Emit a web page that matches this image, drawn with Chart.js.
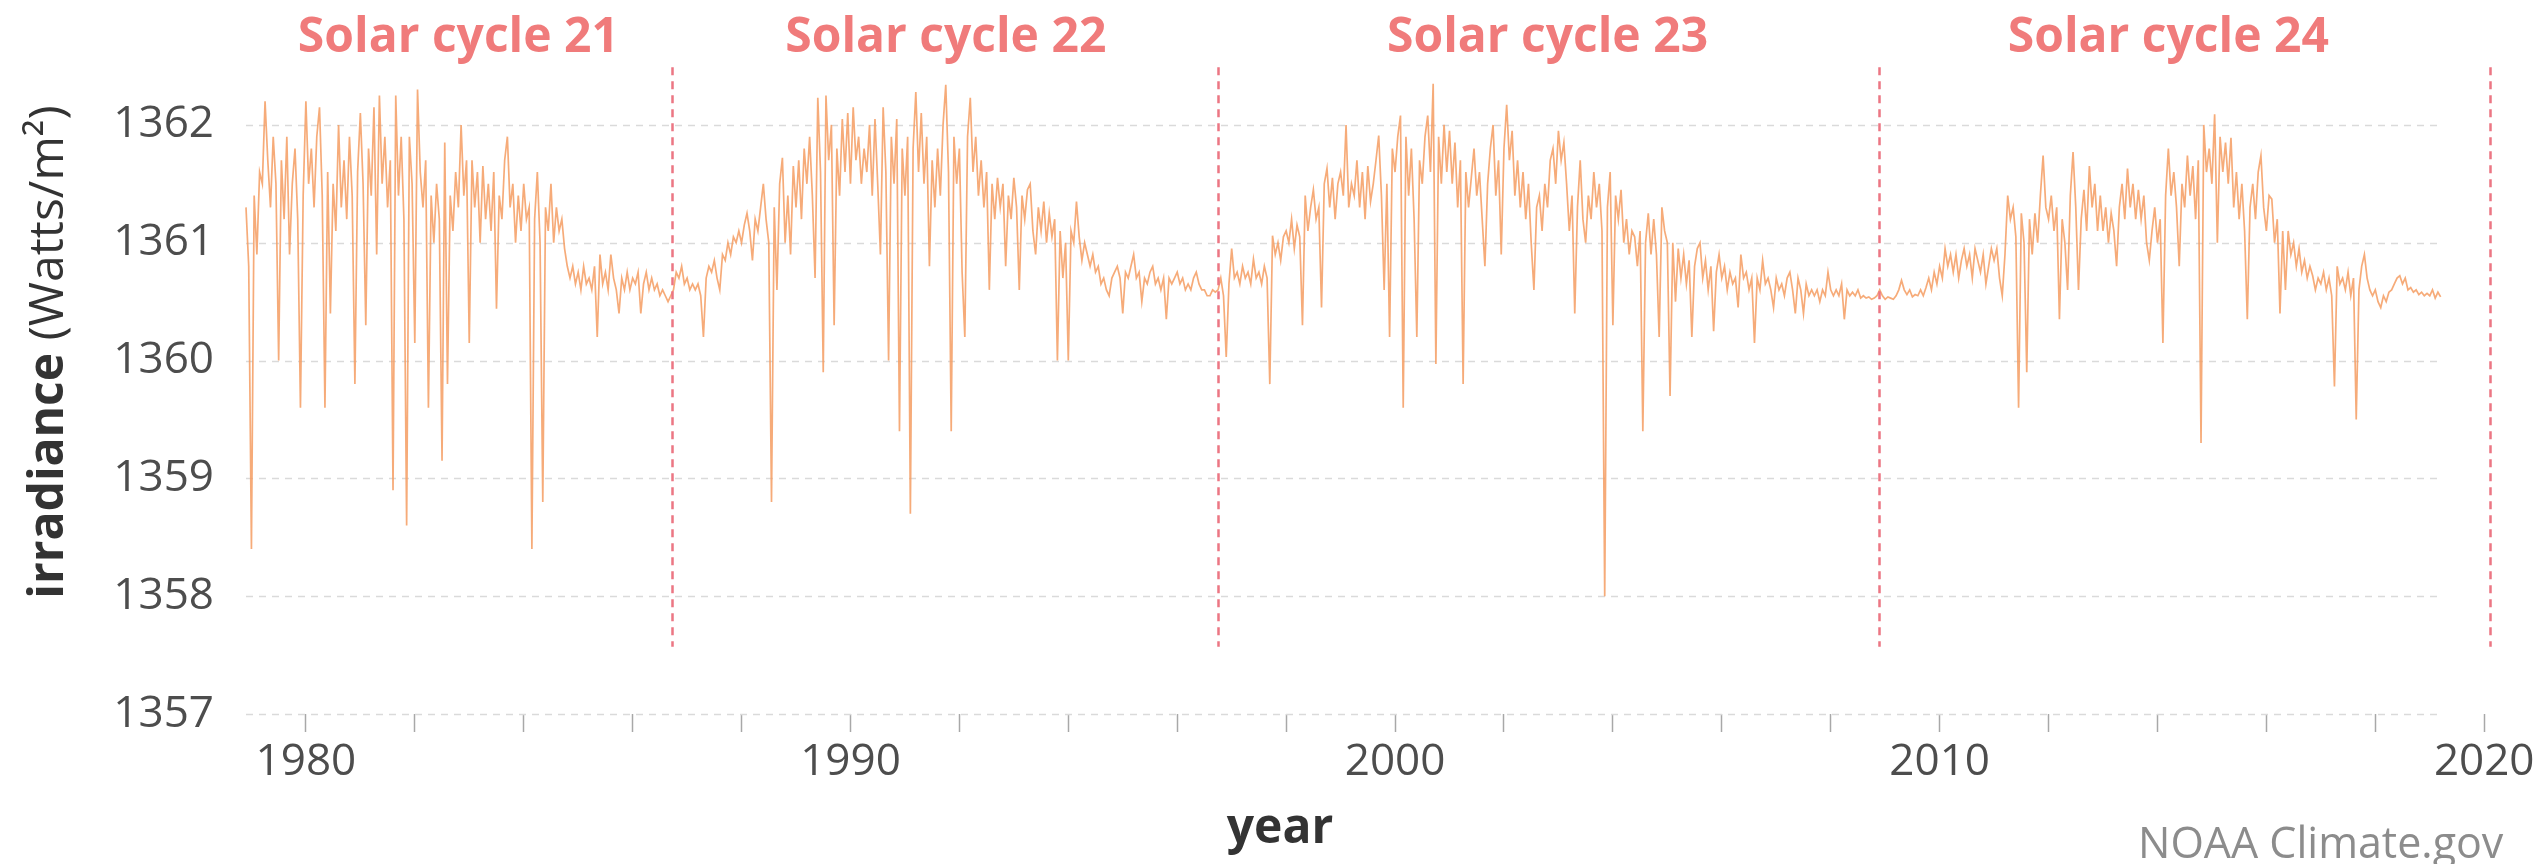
<!DOCTYPE html>
<html>
<head>
<meta charset="utf-8">
<script src="https://cdn.jsdelivr.net/npm/chart.js@4.4.1/dist/chart.umd.min.js"></script>
<style>
  html, body { margin: 0; padding: 0; background: #ffffff; }
  canvas { display: block; }
</style>
</head>
<body>
<canvas id="tsi" width="2547" height="864"></canvas>
<script>
// Total solar irradiance, sampled every 0.05 year (W/m²)
const sampleStep = 0.05;

const cycle21Start = 1978.90;
const cycle21 = [
  1361.3, 1360.8,
  1358.4, 1361.4, 1360.9, 1361.6, 1361.5, 1362.2, 1361.7, 1361.3, 1361.9, 1361.5, 1360.0, 1361.7, 1361.2, 1361.9, 1360.9, 1361.5, 1361.8, 1361.2, 1359.6, 1361.4,
  1362.2, 1361.5, 1361.8, 1361.3, 1361.9, 1362.15, 1361.4, 1359.6, 1361.6, 1360.4, 1361.5, 1361.1, 1362.0, 1361.3, 1361.7, 1361.2, 1361.9, 1361.4, 1359.8, 1361.6,
  1362.1, 1361.5, 1360.3, 1361.8, 1361.4, 1362.15, 1360.9, 1362.25, 1361.5, 1361.9, 1361.3, 1361.7, 1358.9, 1362.25, 1361.4, 1361.9, 1361.2, 1358.6, 1361.9, 1361.5,
  1360.15, 1362.3, 1361.6, 1361.3, 1361.7, 1359.6, 1361.4, 1361.0, 1361.5, 1361.2, 1359.15, 1361.85, 1359.8, 1361.4, 1361.1, 1361.6, 1361.3, 1362.0, 1361.4, 1361.7,
  1360.15, 1361.7, 1361.3, 1361.6, 1361.0, 1361.65, 1361.2, 1361.5, 1361.1, 1361.6, 1360.44, 1361.4, 1361.2, 1361.7, 1361.9, 1361.3, 1361.5, 1361.0, 1361.4, 1361.1,
  1361.5, 1361.2, 1361.3, 1358.4, 1361.2, 1361.6, 1361.0, 1358.8, 1361.3, 1361.1, 1361.5, 1361.0, 1361.3, 1361.1, 1361.2, 1360.95, 1360.8, 1360.7, 1360.8, 1360.65,
  1360.75, 1360.6, 1360.8, 1360.65, 1360.7, 1360.6, 1360.8, 1360.2, 1360.9, 1360.65, 1360.75, 1360.6, 1360.9, 1360.7, 1360.6, 1360.4, 1360.7, 1360.6, 1360.75, 1360.6,
  1360.7, 1360.65, 1360.75, 1360.4, 1360.65, 1360.75, 1360.6, 1360.7, 1360.6, 1360.65, 1360.55, 1360.6, 1360.55, 1360.5, 1360.55
];

const cycle22Start = 1986.75;
const cycle22 = [
  1360.6, 1360.75, 1360.7, 1360.8, 1360.65,
  1360.7, 1360.6, 1360.65, 1360.6, 1360.65, 1360.55, 1360.2, 1360.7, 1360.8, 1360.75, 1360.85, 1360.7, 1360.6, 1360.9, 1360.85, 1361.0, 1360.9, 1361.05, 1361.0, 1361.1,
  1361.0, 1361.15, 1361.25, 1361.1, 1360.85, 1361.2, 1361.1, 1361.3, 1361.5, 1361.2, 1361.0, 1358.8, 1361.3, 1360.6, 1361.5, 1361.72, 1361.0, 1361.4, 1360.9, 1361.65,
  1361.3, 1361.7, 1361.2, 1361.8, 1361.5, 1361.9, 1361.4, 1360.7, 1362.23, 1361.6, 1359.9, 1362.25, 1361.7, 1362.0, 1360.3, 1361.8, 1361.4, 1362.05, 1361.6, 1362.1,
  1361.5, 1362.15, 1361.7, 1361.9, 1361.5, 1361.8, 1361.6, 1362.0, 1361.4, 1362.05, 1361.5, 1360.9, 1362.15, 1361.6, 1360.0, 1361.9, 1361.5, 1362.05, 1359.4, 1361.8,
  1361.4, 1361.9, 1358.7, 1361.8, 1362.28, 1361.6, 1362.1, 1361.5, 1361.9, 1360.8, 1361.7, 1361.3, 1361.8, 1361.4, 1362.0, 1362.34, 1361.6, 1359.4, 1361.9, 1361.5,
  1361.8, 1360.75, 1360.2, 1361.9, 1362.23, 1361.6, 1361.9, 1361.4, 1361.7, 1361.3, 1361.6, 1360.6, 1361.5, 1361.2, 1361.55, 1361.3, 1361.5, 1360.8, 1361.4, 1361.2,
  1361.55, 1361.3, 1360.6, 1361.4, 1361.2, 1361.45, 1361.5, 1361.1, 1360.9, 1361.3, 1361.1, 1361.35, 1361.0, 1361.25, 1361.05, 1361.2, 1360.0, 1361.1, 1360.7, 1361.0,
  1360.0, 1361.1, 1361.0, 1361.35, 1361.05, 1360.85, 1361.0, 1360.9, 1360.8, 1360.9, 1360.75, 1360.8, 1360.65, 1360.7, 1360.6, 1360.55, 1360.7, 1360.75, 1360.8, 1360.7,
  1360.4, 1360.75, 1360.7, 1360.8, 1360.9, 1360.7, 1360.75, 1360.5, 1360.7, 1360.65, 1360.75, 1360.8, 1360.65, 1360.7, 1360.6, 1360.7, 1360.35, 1360.7, 1360.65, 1360.7,
  1360.75, 1360.65, 1360.7, 1360.6, 1360.65, 1360.6, 1360.7, 1360.75, 1360.65, 1360.6, 1360.6, 1360.55, 1360.55, 1360.6, 1360.58
];

const cycle23Start = 1996.75;
const cycle23 = [
  1360.6, 1360.7, 1360.55, 1360.03, 1360.65,
  1360.95, 1360.7, 1360.75, 1360.65, 1360.8, 1360.7, 1360.75, 1360.65, 1360.86, 1360.7, 1360.75, 1360.65, 1360.8, 1360.7, 1359.8, 1361.06, 1360.9, 1361.0, 1360.85, 1361.05,
  1361.1, 1361.0, 1361.2, 1360.95, 1361.15, 1361.05, 1360.3, 1361.4, 1361.1, 1361.3, 1361.45, 1361.2, 1361.3, 1360.45, 1361.5, 1361.63, 1361.3, 1361.55, 1361.2, 1361.5,
  1361.6, 1361.4, 1362.0, 1361.3, 1361.5, 1361.4, 1361.7, 1361.3, 1361.6, 1361.2, 1361.65, 1361.35, 1361.5, 1361.7, 1361.91, 1361.4, 1360.6, 1361.5, 1360.2, 1361.8,
  1361.6, 1361.9, 1362.08, 1359.6, 1361.9, 1361.4, 1361.8, 1361.2, 1360.2, 1361.7, 1361.5, 1361.9, 1362.08, 1361.6, 1362.35, 1359.97, 1361.9, 1361.5, 1362.0, 1361.6,
  1361.95, 1361.5, 1361.85, 1361.3, 1361.7, 1359.8, 1361.6, 1361.3, 1361.55, 1361.8, 1361.4, 1361.6, 1361.2, 1360.8, 1361.5, 1361.8, 1362.0, 1361.4, 1361.7, 1360.9,
  1361.8, 1362.17, 1361.7, 1361.95, 1361.4, 1361.7, 1361.3, 1361.6, 1361.2, 1361.5, 1361.0, 1360.6, 1361.3, 1361.4, 1361.1, 1361.5, 1361.3, 1361.7, 1361.8, 1361.5,
  1361.95, 1361.7, 1361.85, 1361.5, 1361.1, 1361.4, 1360.4, 1361.3, 1361.7, 1361.2, 1361.0, 1361.4, 1361.2, 1361.6, 1361.3, 1361.5, 1361.1, 1358.0, 1361.3, 1361.6,
  1360.3, 1361.4, 1361.2, 1361.45, 1361.0, 1361.2, 1360.9, 1361.1, 1361.05, 1360.8, 1361.1, 1359.4, 1361.0, 1361.25, 1360.9, 1361.2, 1360.9, 1360.2, 1361.3, 1361.1,
  1361.0, 1359.7, 1361.0, 1360.5, 1360.95, 1360.7, 1360.9, 1360.65, 1360.85, 1360.2, 1360.8, 1360.95, 1361.0, 1360.7, 1360.85, 1360.6, 1360.8, 1360.25, 1360.75, 1360.9,
  1360.7, 1360.8, 1360.6, 1360.75, 1360.65, 1360.7, 1360.45, 1360.9, 1360.7, 1360.75, 1360.6, 1360.7, 1360.15, 1360.7, 1360.6, 1360.85, 1360.65, 1360.7, 1360.6, 1360.45,
  1360.7, 1360.6, 1360.65, 1360.55, 1360.7, 1360.75, 1360.6, 1360.4, 1360.7, 1360.6, 1360.4, 1360.65, 1360.55, 1360.6, 1360.55, 1360.6, 1360.5, 1360.6, 1360.55, 1360.75,
  1360.6, 1360.55, 1360.6, 1360.55, 1360.65, 1360.35, 1360.6, 1360.55, 1360.58, 1360.55, 1360.6, 1360.53, 1360.55, 1360.53, 1360.54, 1360.52, 1360.53, 1360.55
];

const cycle24Start = 2008.90;
const cycle24 = [
  1360.6, 1360.55,
  1360.52, 1360.54, 1360.53, 1360.52, 1360.55, 1360.6, 1360.68, 1360.6, 1360.56, 1360.6, 1360.54, 1360.56, 1360.55, 1360.6, 1360.55, 1360.62, 1360.7, 1360.6, 1360.75, 1360.65,
  1360.8, 1360.7, 1360.95, 1360.8, 1360.9, 1360.75, 1360.9, 1360.7, 1360.85, 1360.95, 1360.8, 1360.9, 1360.7, 1360.95, 1360.85, 1360.75, 1360.9, 1360.65, 1360.8, 1360.95,
  1360.85, 1360.95, 1360.7, 1360.55, 1360.9, 1361.4, 1361.2, 1361.3, 1361.05, 1359.6, 1361.25, 1361.0, 1359.9, 1361.2, 1360.9, 1361.25, 1361.0, 1361.4, 1361.74, 1361.3,
  1361.2, 1361.4, 1361.1, 1361.3, 1360.35, 1361.2, 1361.0, 1360.6, 1361.4, 1361.77, 1361.3, 1360.6, 1361.2, 1361.45, 1361.1, 1361.65, 1361.3, 1361.5, 1361.1, 1361.4,
  1361.1, 1361.3, 1361.0, 1361.25, 1361.1, 1360.8, 1361.3, 1361.5, 1361.2, 1361.63, 1361.3, 1361.5, 1361.2, 1361.45, 1361.2, 1361.4, 1361.0, 1360.85, 1361.1, 1361.3,
  1361.0, 1361.2, 1360.15, 1361.4, 1361.8, 1361.4, 1361.6, 1361.3, 1360.8, 1361.5, 1361.3, 1361.74, 1361.4, 1361.65, 1361.2, 1361.7, 1359.3, 1362.0, 1361.6, 1361.8,
  1361.5, 1362.09, 1361.0, 1361.9, 1361.6, 1361.85, 1361.5, 1361.89, 1361.3, 1361.6, 1361.2, 1361.5, 1361.1, 1360.35, 1361.3, 1361.5, 1361.2, 1361.6, 1361.74, 1361.3,
  1361.1, 1361.4, 1361.37, 1361.0, 1361.2, 1360.4, 1361.1, 1360.6, 1361.1, 1360.9, 1361.0, 1360.8, 1360.95, 1360.75, 1360.85, 1360.7, 1360.8, 1360.72, 1360.6, 1360.7,
  1360.65, 1360.75, 1360.6, 1360.7, 1360.55, 1359.78, 1360.8, 1360.65, 1360.7, 1360.6, 1360.75, 1360.55, 1360.7, 1359.5, 1360.6, 1360.8, 1360.9, 1360.7, 1360.6, 1360.55,
  1360.6, 1360.5, 1360.45, 1360.55, 1360.5, 1360.58, 1360.6, 1360.65, 1360.7, 1360.72, 1360.65, 1360.7, 1360.6, 1360.62, 1360.58, 1360.6, 1360.56, 1360.58, 1360.55, 1360.57,
  1360.55, 1360.6, 1360.53, 1360.58, 1360.54
];

// Axis ticks and annotations
const yTickValues = [1357, 1358, 1359, 1360, 1361, 1362];
const xTickYears = [1980, 1982, 1984, 1986, 1988, 1990, 1992, 1994, 1996, 1998, 2000,
                    2002, 2004, 2006, 2008, 2010, 2012, 2014, 2016, 2018, 2020];
const xLabelYears = [1980, 1990, 2000, 2010, 2020];
const cycleBoundaries = [1986.73, 1996.75, 2008.88, 2020.1];
const boundarySpan = [1357.57, 1362.49];
const cycleNames = ['Solar cycle 21', 'Solar cycle 22', 'Solar cycle 23', 'Solar cycle 24'];
const cycleLabelYears = [1982.8, 1991.75, 2002.8, 2014.2];

const FONT = "'Open Sans', 'Noto Sans', 'DejaVu Sans', sans-serif";

function toPoints(start, values) {
  return values.map((v, i) => ({ x: +(start + i * sampleStep).toFixed(3), y: v }));
}
const series = [].concat(
  toPoints(cycle21Start, cycle21),
  toPoints(cycle22Start, cycle22),
  toPoints(cycle23Start, cycle23),
  toPoints(cycle24Start, cycle24)
);
const recordStart = series[0].x;
const recordEnd = series[series.length - 1].x;

const decorations = {
  id: 'decorations',
  beforeDatasetsDraw(chart) {
    const { ctx, scales: { x, y } } = chart;
    ctx.save();
    ctx.strokeStyle = '#dadada';
    ctx.lineWidth = 1.5;
    ctx.setLineDash([7, 6]);
    const x0 = x.getPixelForValue(recordStart);
    const x1 = x.getPixelForValue(recordEnd);
    yTickValues.forEach(v => {
      const py = Math.round(y.getPixelForValue(v)) + 0.5;
      ctx.beginPath();
      ctx.moveTo(x0, py);
      ctx.lineTo(x1, py);
      ctx.stroke();
    });
    ctx.restore();
  },
  afterDatasetsDraw(chart) {
    const { ctx, scales: { x, y } } = chart;
    ctx.save();
    // cycle boundaries
    ctx.strokeStyle = '#ec7683';
    ctx.lineWidth = 2.5;
    ctx.setLineDash([8, 6]);
    cycleBoundaries.forEach(yr => {
      const px = Math.round(x.getPixelForValue(yr)) + 0.5;
      ctx.beginPath();
      ctx.moveTo(px, y.getPixelForValue(boundarySpan[1]));
      ctx.lineTo(px, y.getPixelForValue(boundarySpan[0]));
      ctx.stroke();
    });
    ctx.setLineDash([]);
    // cycle names
    ctx.fillStyle = '#f07b7b';
    ctx.font = 'bold 48px ' + FONT;
    ctx.textAlign = 'center';
    ctx.textBaseline = 'alphabetic';
    cycleNames.forEach((name, i) => {
      ctx.fillText(name, x.getPixelForValue(cycleLabelYears[i]), 52);
    });
    // x axis title
    ctx.fillStyle = '#333333';
    ctx.font = 'bold 48px ' + FONT;
    ctx.fillText('year', 1280, 843);
    // y axis title: bold word followed by regular units
    ctx.save();
    ctx.translate(63, 352);
    ctx.rotate(-Math.PI / 2);
    const boldPart = 'irradiance';
    const normPart = ' (Watts/m²)';
    ctx.font = 'bold 48px ' + FONT;
    const wb = ctx.measureText(boldPart).width;
    ctx.font = '48px ' + FONT;
    const wn = ctx.measureText(normPart).width;
    const startX = -(wb + wn) / 2;
    ctx.textAlign = 'left';
    ctx.font = 'bold 48px ' + FONT;
    ctx.fillText(boldPart, startX, 0);
    ctx.font = '48px ' + FONT;
    ctx.fillText(normPart, startX + wb, 0);
    ctx.restore();
    // credit
    ctx.fillStyle = '#8c8c8c';
    ctx.font = '43px ' + FONT;
    ctx.textAlign = 'left';
    ctx.fillText('NOAA Climate.gov', 2138, 858);
    ctx.restore();
  }
};

new Chart(document.getElementById('tsi'), {
  type: 'line',
  data: {
    datasets: [{
      label: 'irradiance',
      data: series,
      borderColor: 'rgba(245, 156, 98, 0.85)',
      borderWidth: 1.7,
      pointRadius: 0,
      tension: 0,
      fill: false
    }]
  },
  options: {
    responsive: false,
    animation: false,
    devicePixelRatio: 1,
    parsing: false,
    layout: { padding: { top: 66, right: 47, bottom: 0, left: 0 } },
    plugins: {
      legend: { display: false },
      tooltip: { enabled: false },
      title: { display: false }
    },
    scales: {
      x: {
        type: 'linear',
        min: 1978.79,
        max: 2020.29,
        afterBuildTicks: s => { s.ticks = xTickYears.map(v => ({ value: v })); },
        afterFit: s => { s.height = 150; },
        ticks: {
          autoSkip: false,
          maxRotation: 0,
          padding: 4,
          color: '#4d4d4d',
          font: { family: FONT, size: 44 },
          callback: v => xLabelYears.includes(v) ? String(v) : ''
        },
        grid: {
          display: true,
          drawOnChartArea: false,
          drawTicks: true,
          tickLength: 18,
          tickColor: '#a8a8a8',
          tickWidth: 1.5
        },
        border: { display: false }
      },
      y: {
        type: 'linear',
        min: 1357,
        max: 1362.5,
        afterBuildTicks: s => { s.ticks = yTickValues.map(v => ({ value: v })); },
        afterFit: s => { s.width = 240; },
        ticks: {
          padding: 26,
          color: '#4d4d4d',
          font: { family: FONT, size: 44 },
          callback: v => String(v)
        },
        grid: { display: false, drawTicks: false },
        border: { display: false }
      }
    }
  },
  plugins: [decorations]
});
</script>
</body>
</html>
